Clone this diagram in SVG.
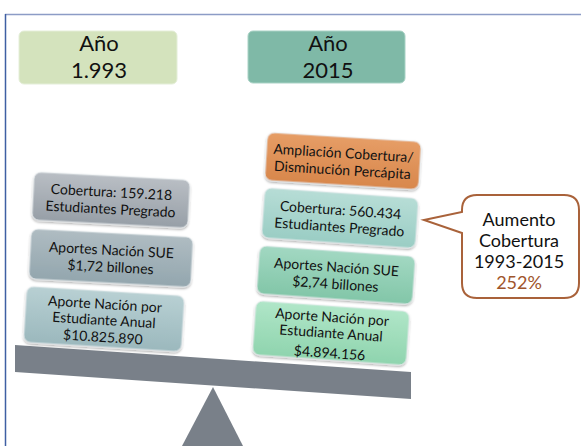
<svg xmlns="http://www.w3.org/2000/svg" width="581" height="446" viewBox="0 0 581 446">
<defs>
<linearGradient id="gGray" x1="0" y1="0" x2="0" y2="1"><stop offset="0" stop-color="#b9bec4"/><stop offset="1" stop-color="#979fa7"/></linearGradient>
<linearGradient id="gGrayTeal" x1="0" y1="0" x2="0" y2="1"><stop offset="0" stop-color="#afbcc2"/><stop offset="1" stop-color="#93a6ae"/></linearGradient>
<linearGradient id="gTealGray" x1="0" y1="0" x2="0" y2="1"><stop offset="0" stop-color="#b8d0d3"/><stop offset="1" stop-color="#9bb8bd"/></linearGradient>
<linearGradient id="gOrange" x1="0" y1="0" x2="0" y2="1"><stop offset="0" stop-color="#e69d66"/><stop offset="1" stop-color="#d8874c"/></linearGradient>
<linearGradient id="gTeal" x1="0" y1="0" x2="0" y2="1"><stop offset="0" stop-color="#b7ddd6"/><stop offset="1" stop-color="#9acdc4"/></linearGradient>
<linearGradient id="gGreenTeal" x1="0" y1="0" x2="0" y2="1"><stop offset="0" stop-color="#a2d8c2"/><stop offset="1" stop-color="#82c6a8"/></linearGradient>
<linearGradient id="gGreen" x1="0" y1="0" x2="0" y2="1"><stop offset="0" stop-color="#b0e6c8"/><stop offset="1" stop-color="#8fd4ae"/></linearGradient>
<filter id="sh" x="-10%" y="-10%" width="120%" height="130%"><feDropShadow dx="0" dy="1.5" stdDeviation="1.2" flood-color="#000" flood-opacity="0.35"/></filter>
</defs>
<style>
.t{font-family:Lato,"Open Sans","Liberation Sans",sans-serif;fill:#111;text-anchor:middle}
.yr{font-size:22px}
.bx{font-size:14px}
.cl{font-size:18px}
.card{stroke:#e8eef0;stroke-width:0.8;filter:url(#sh)}
</style>
<rect x="0" y="0" width="581" height="446" fill="#fff"/>
<g id="frame">
<line x1="5" y1="14.5" x2="581" y2="14.5" stroke="#8c9cc6" stroke-width="1.5"/>
<line x1="5.5" y1="14" x2="5.5" y2="446" stroke="#3f5fa3" stroke-width="1.5"/>
</g>
<g id="year1993">
<rect x="19" y="31" width="158" height="53" rx="5" fill="#d4e3bd" stroke="#e4eed8" stroke-width="1"/>
<text class="t yr" x="99" y="51">Año</text>
<text class="t yr" x="99" y="78">1.993</text>
</g>
<g id="year2015">
<rect x="248" y="31" width="157" height="52" rx="5" fill="#7fb9a7" stroke="#a9d2c5" stroke-width="1"/>
<text class="t yr" x="328" y="51">Año</text>
<text class="t yr" x="328" y="78">2015</text>
</g>
<g id="beam">
<polygon points="15,345 411,372 411,399 15,372" fill="#798089"/>
</g>
<g id="fulcrum">
<polygon points="213,387 182,446 243,446" fill="#798089"/>
</g>
<g id="left-cobertura" transform="translate(111,200) rotate(3)">
<rect class="card" x="-78" y="-24" width="156" height="48" rx="7" fill="url(#gGray)"/>
<text class="t bx" x="0" y="-3">Cobertura: 159.218</text>
<text class="t bx" x="0" y="14">Estudiantes Pregrado</text>
</g>
<g id="left-aportes" transform="translate(111,258) rotate(3)">
<rect class="card" x="-81" y="-25" width="162" height="50" rx="7" fill="url(#gGrayTeal)"/>
<text class="t bx" x="0" y="-3">Aportes Nación SUE</text>
<text class="t bx" x="0" y="14">$1,72 billones</text>
</g>
<g id="left-aporte-estudiante" transform="translate(104,319) rotate(3.5)">
<rect class="card" x="-79" y="-28" width="158" height="56" rx="7" fill="url(#gTealGray)"/>
<text class="t bx" x="0" y="-10">Aporte Nación por</text>
<text class="t bx" x="0" y="6">Estudiante Anual</text>
<text class="t bx" x="0" y="23">$10.825.890</text>
</g>
<g id="right-ampliacion" transform="translate(343,161) rotate(3.5)">
<rect class="card" x="-77" y="-24" width="154" height="48" rx="7" fill="url(#gOrange)"/>
<text class="t bx" x="0" y="-3">Ampliación Cobertura/</text>
<text class="t bx" x="0" y="14">Disminución Percápita</text>
</g>
<g id="right-cobertura" transform="translate(340,218) rotate(4)">
<rect class="card" x="-77" y="-25" width="154" height="50" rx="7" fill="url(#gTeal)"/>
<text class="t bx" x="0" y="-3">Cobertura: 560.434</text>
<text class="t bx" x="0" y="14">Estudiantes Pregrado</text>
</g>
<g id="right-aportes" transform="translate(336,275) rotate(4)">
<rect class="card" x="-78" y="-24" width="156" height="48" rx="7" fill="url(#gGreenTeal)"/>
<text class="t bx" x="0" y="-3">Aportes Nación SUE</text>
<text class="t bx" x="0" y="14">$2,74 billones</text>
</g>
<g id="right-aporte-estudiante" transform="translate(331,333) rotate(4)">
<rect class="card" x="-77" y="-27" width="154" height="54" rx="7" fill="url(#gGreen)"/>
<text class="t bx" x="0" y="-11">Aporte Nación por</text>
<text class="t bx" x="0" y="5">Estudiante Anual</text>
<text class="t bx" x="0" y="25">$4.894.156</text>
</g>
<g id="callout">
<path d="M477,195 H564 Q579,195 579,210 V283 Q579,298 564,298 H477 Q462,298 462,283 V233 L424,220 L462,212 V210 Q462,195 477,195 Z" fill="#fff" stroke="#a9623a" stroke-width="2"/>
<text class="t cl" x="519" y="226">Aumento</text>
<text class="t cl" x="519" y="247">Cobertura</text>
<text class="t cl" x="519" y="268">1993-2015</text>
<text class="t cl" x="519" y="289" style="fill:#a0552c">252%</text>
</g>
</svg>
